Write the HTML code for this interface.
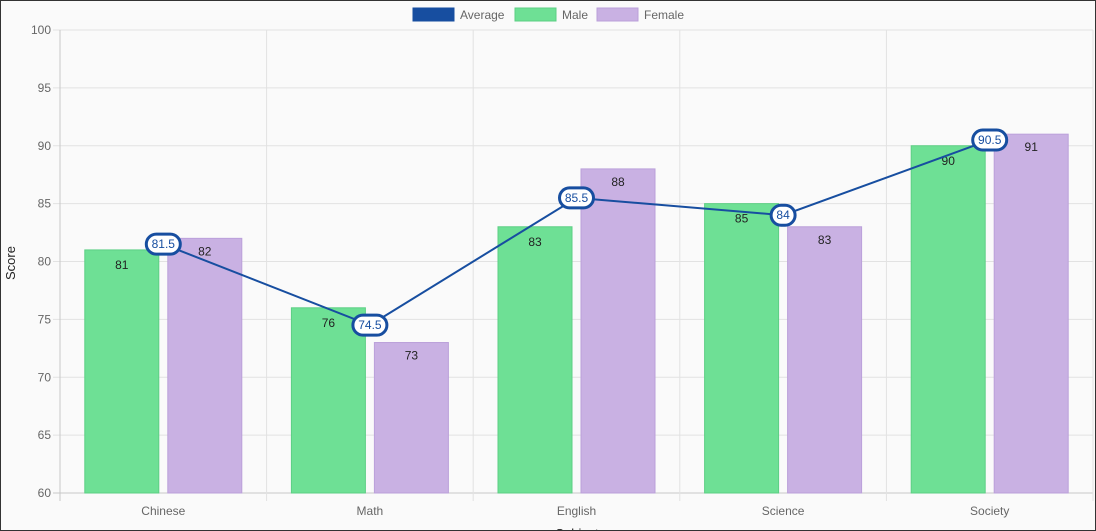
<!DOCTYPE html>
<html><head><meta charset="utf-8"><style>
html,body{margin:0;padding:0;background:#fafafa}
#wrap{width:1094px;height:529px;border:1px solid #333;background:#fafafa;position:relative;overflow:hidden}
svg text{font-family:"Liberation Sans",sans-serif}
</style></head><body>
<div id="wrap">
<svg id="chart" width="1094" height="529"></svg>
</div>
<script>
const categories=["Chinese","Math","English","Science","Society"];
const maleValues=[81,76,83,85,90];
const femaleValues=[82,73,88,83,91];
const averageValues=[81.5,74.5,85.5,84,90.5];
const yTicks=[60,65,70,75,80,85,90,95,100];
const NS="http://www.w3.org/2000/svg";
const svg=document.getElementById("chart");
const L=59,R=1092,T=29,B=492,yMin=60,yMax=100;
const bandW=(R-L)/categories.length;
const y=v=>B-(v-yMin)/(yMax-yMin)*(B-T);
const xc=i=>L+bandW*(i+0.5);
function mk(tag,attrs,txt){const e=document.createElementNS(NS,tag);for(const k in attrs)e.setAttribute(k,attrs[k]);if(txt!==undefined)e.textContent=txt;svg.appendChild(e);return e;}
// grid
yTicks.forEach(t=>{
 const g=mk("line",{x1:L-7,x2:R,y1:y(t),y2:y(t),stroke:t===60?"#c8c8c8":"#e2e2e2","stroke-width":1});
 
 
 const tx=mk("text",{x:L-9,y:y(t)+4,"text-anchor":"end","font-size":12,fill:"#666"},t);
 
 
});
for(let i=0;i<=categories.length;i++){
 const x=L+bandW*i;
 const g=mk("line",{x1:x,x2:x,y1:T,y2:B+8,stroke:i===0?"#c8c8c8":"#e2e2e2","stroke-width":1});
 
 
}
categories.forEach((c,i)=>{
 const t=mk("text",{x:xc(i),y:514,"text-anchor":"middle","font-size":12,fill:"#666"},c);
 
 
});
const bw=74,gap=9;
categories.forEach((c,i)=>{
 const mx=xc(i)-gap/2-bw, fx=xc(i)+gap/2;
 const m=mk("rect",{x:mx,y:y(maleValues[i]),width:bw,height:B-y(maleValues[i]),fill:"#6ee095",stroke:"#5ccf84","stroke-width":1});
 
 
 const f=mk("rect",{x:fx,y:y(femaleValues[i]),width:bw,height:B-y(femaleValues[i]),fill:"#c9b1e3",stroke:"#bba0da","stroke-width":1});
 
 
 const ml=mk("text",{x:mx+bw/2,y:y(maleValues[i])+19,"text-anchor":"middle","font-size":12,fill:"#222"},maleValues[i]);
 
 
 const fl=mk("text",{x:fx+bw/2,y:y(femaleValues[i])+17,"text-anchor":"middle","font-size":12,fill:"#222"},femaleValues[i]);
 
 
});
const pts=averageValues.map((v,i)=>xc(i)+","+y(v)).join(" ");
const line=mk("polyline",{points:pts,fill:"none",stroke:"#174ea0","stroke-width":2});


averageValues.forEach((v,i)=>{
 const s=String(v),w=s.length>2?34:24;
 const r=mk("rect",{x:xc(i)-w/2,y:y(v)-10,width:w,height:20,rx:10,ry:10,fill:"#fff",stroke:"#174ea0","stroke-width":3});
 
 
 const t=mk("text",{x:xc(i),y:y(v)+4,"text-anchor":"middle","font-size":12,fill:"#174ea0"},s);
 
 
});
// axis titles
const yt=mk("text",{x:14,y:262,"text-anchor":"middle","font-size":13,fill:"#222",transform:"rotate(-90 14 262)"},"Score");


const xt=mk("text",{x:576,y:537,"text-anchor":"middle","font-size":13,fill:"#222"},"Subject");


// legend
const legend=[["Average","#174ea0","#174ea0",412],["Male","#6ee095","#5ccf84",514],["Female","#c9b1e3","#bba0da",596]];
legend.forEach(l=>{
 const r=mk("rect",{x:l[3],y:7,width:41,height:13,fill:l[1],stroke:l[2],"stroke-width":1});
 
 
 const t=mk("text",{x:l[3]+47,y:18,"font-size":12,fill:"#666"},l[0]);
 
 
});
</script>
</body></html>
